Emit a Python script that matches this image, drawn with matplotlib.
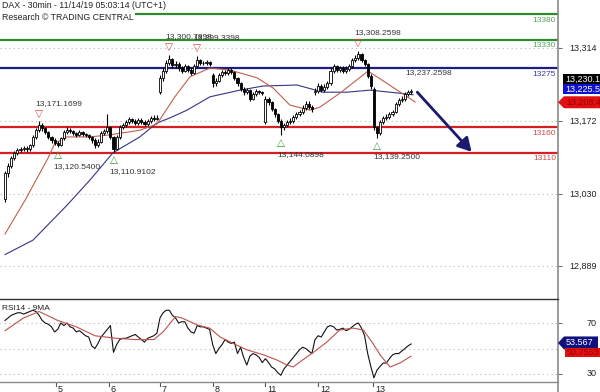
import matplotlib
matplotlib.use('Agg')
import matplotlib.pyplot as plt
from matplotlib.patches import Rectangle, Polygon
from matplotlib.lines import Line2D

plt.rcParams['font.family'] = ['Liberation Sans', 'DejaVu Sans']

# ---------------- data ----------------
opens = [13020, 13070, 13085, 13100, 13110, 13116, 13118, 13120, 13117, 13125,
         13140, 13155, 13165, 13158, 13150, 13140, 13135, 13130, 13126, 13138,
         13150, 13155, 13152, 13148, 13145, 13150, 13146, 13144, 13140, 13135,
         13125, 13132, 13148, 13152, 13160, 13140, 13118, 13140, 13160, 13165,
         13170, 13175, 13172, 13168, 13174, 13170, 13166, 13172, 13178, 13176,
         13228, 13255, 13270, 13285, 13292, 13280, 13283, 13275, 13270, 13278,
         13272, 13266, 13278, 13290, 13285, 13284, 13286, 13262, 13245, 13250,
         13262, 13268, 13265, 13272, 13268, 13255, 13245, 13235, 13228, 13232,
         13215, 13225, 13230, 13228, 13170, 13215, 13208, 13195, 13185, 13172,
         13160, 13165, 13170, 13172, 13180, 13185, 13190, 13198, 13205, 13200,
         13228, 13230, 13240, 13232, 13238, 13245, 13270, 13278, 13272, 13275,
         13270, 13274, 13278, 13290, 13295, 13302, 13290, 13282, 13260, 13235,
         13160, 13148, 13170, 13178, 13180, 13185, 13190, 13205, 13212, 13215,
         13225, 13228]
highs = [13075, 13090, 13104, 13114, 13120, 13122, 13124, 13123, 13128, 13144,
         13158, 13171.17, 13168, 13161, 13153, 13143, 13138, 13133, 13141, 13154,
         13160, 13158, 13155, 13151, 13154, 13153, 13149, 13147, 13143, 13138,
         13136, 13152, 13157, 13185, 13163, 13143, 13144, 13164, 13169, 13174,
         13179, 13178, 13175, 13177, 13177, 13173, 13176, 13182, 13184, 13183,
         13262, 13275, 13290, 13300.78, 13295, 13288, 13286, 13279, 13282, 13281,
         13275, 13282, 13299.34, 13293, 13289, 13290, 13289, 13265, 13255, 13266,
         13272, 13271, 13276, 13275, 13270, 13258, 13248, 13238, 13236, 13234,
         13229, 13234, 13233, 13231, 13220, 13218, 13210, 13198, 13188, 13175,
         13169, 13174, 13177, 13184, 13189, 13194, 13203, 13210, 13210, 13204,
         13236, 13245, 13243, 13243, 13250, 13275, 13283, 13281, 13279, 13278,
         13278, 13282, 13294, 13300, 13308.26, 13304, 13293, 13285, 13263, 13238,
         13163, 13174, 13182, 13185, 13189, 13194, 13209, 13216, 13220, 13229,
         13233, 13235]
lows = [13015, 13062, 13080, 13096, 13106, 13111, 13113, 13112, 13114, 13122,
        13137, 13151, 13153, 13146, 13136, 13130, 13125, 13120.54, 13123, 13135,
        13146, 13148, 13144, 13141, 13142, 13142, 13140, 13136, 13130, 13120,
        13122, 13129, 13144, 13149, 13136, 13110.91, 13115, 13137, 13156, 13161,
        13166, 13168, 13164, 13165, 13166, 13162, 13163, 13169, 13172, 13173,
        13225, 13250, 13266, 13281, 13276, 13275, 13270, 13265, 13267, 13268,
        13262, 13263, 13275, 13281, 13280, 13281, 13278, 13238, 13241, 13247,
        13258, 13261, 13262, 13264, 13251, 13240, 13230, 13222, 13224, 13210,
        13212, 13221, 13224, 13222, 13166, 13204, 13191, 13180, 13168, 13144.09,
        13155, 13161, 13166, 13169, 13176, 13181, 13186, 13194, 13196, 13190,
        13222, 13226, 13228, 13228, 13234, 13242, 13266, 13268, 13268, 13266,
        13266, 13270, 13275, 13286, 13291, 13286, 13278, 13255, 13235, 13155,
        13139.25, 13145, 13166, 13174, 13176, 13181, 13187, 13201, 13208, 13211,
        13221, 13224]
closes = [13070, 13085, 13100, 13110, 13116, 13118, 13120, 13117, 13125, 13140,
          13155, 13165, 13158, 13150, 13140, 13135, 13130, 13126, 13138, 13150,
          13155, 13152, 13148, 13145, 13150, 13146, 13144, 13140, 13135, 13125,
          13132, 13148, 13152, 13160, 13140, 13118, 13140, 13160, 13165, 13170,
          13175, 13172, 13168, 13174, 13170, 13166, 13172, 13178, 13176, 13178,
          13255, 13270, 13285, 13292, 13280, 13283, 13275, 13270, 13278, 13272,
          13266, 13278, 13290, 13285, 13284, 13286, 13282, 13245, 13250, 13262,
          13268, 13265, 13272, 13268, 13255, 13245, 13235, 13228, 13232, 13215,
          13225, 13230, 13228, 13226, 13215, 13208, 13195, 13185, 13172, 13160,
          13165, 13170, 13172, 13180, 13185, 13190, 13198, 13205, 13200, 13195,
          13230, 13240, 13232, 13238, 13245, 13270, 13278, 13272, 13275, 13270,
          13274, 13278, 13290, 13295, 13302, 13290, 13282, 13260, 13240, 13160,
          13148, 13170, 13178, 13180, 13185, 13190, 13205, 13212, 13215, 13225,
          13228, 13230]

ma_fast_bars = [0, 6.5, 13.9, 16.1, 20, 27.4, 33.9, 43.5, 49, 54.8, 59.7, 66.1,
                72.6, 81.3, 86.5, 91.9, 98.4, 101.6, 108, 113.5, 117.1, 121, 126.5, 132.3]
ma_fast_vals = [12952, 13018, 13100, 13129, 13141, 13141, 13145, 13154, 13166, 13219,
                13258, 13275, 13271, 13256, 13236, 13203, 13193, 13199, 13226, 13252,
                13269, 13254, 13232, 13209]
ma_slow_bars = [0, 9, 20, 27.4, 34.8, 43.5, 49, 53.2, 58.7, 66.1, 75.8, 83.2,
                94.2, 102.6, 110.3, 117.7, 127.4, 131.6]
ma_slow_vals = [12912, 12940, 13008, 13057, 13110, 13141, 13168, 13178, 13193, 13219,
                13232, 13240, 13242, 13228, 13228, 13232, 13226, 13223]

rsi = [72, 74, 76, 77, 78, 78, 77, 78, 79, 80, 79, 76, 72, 70, 69, 67, 63, 65, 70, 68,
       70, 67, 66, 63, 64, 62, 60, 59, 52, 50, 54, 59, 62, 65, 68, 47, 53, 57, 58, 58,
       59, 60, 61, 59, 57, 55, 58, 59, 60, 62, 74, 78, 80, 80, 76, 74, 70, 71, 71, 66,
       63, 62, 68, 67, 67, 66, 65, 53, 46, 50, 53, 57, 55, 54, 55, 46, 51, 43, 37, 44,
       46, 45, 43, 39, 42, 39, 35.5, 34, 31, 29, 34, 37, 40, 43, 46, 49, 51, 50, 48, 46,
       57, 60, 59, 63, 67, 68, 67, 64.5, 65, 66, 64, 65, 67, 69, 70, 66, 60, 46, 36, 27,
       33, 36, 38.6, 38.6, 42, 45, 46, 46, 48, 50, 52, 53.567]
rsi_ma_bars = [0, 6, 11, 17, 23, 29, 36, 42, 48, 51, 55, 57, 62, 66, 69.4, 73.6, 78,
               83.4, 87.7, 91, 93, 96, 99.5, 103.8, 108, 112.3, 115.6, 118.4, 121,
               124.2, 127.4, 131]
rsi_ma_vals = [64, 74, 79, 72, 67, 60, 58, 57, 57, 63, 75, 74, 68.5, 66, 59, 54, 49,
               45, 41, 37, 35.5, 41, 47, 55, 64.5, 66, 64.5, 55, 45, 35.5, 38.6, 44]

levels = [13380, 13330, 13275, 13160, 13110]
level_colors = ['#2e8b2e', '#2e8b2e', '#1c1c8a', '#d42020', '#d42020']
level_text_colors = ['#5aa05a', '#5aa05a', '#3a3a9a', '#c84848', '#c84848']

price_ticks = [13314, 13172, 13030, 12889]
rsi_ticks = [70, 30]
rsi_grid = [70, 50, 30]

day_labels = ['5', '6', '7', '8', '11', '12', '13']
day_start_bar = [16.5, 33.5, 50, 67, 84, 101, 118.7]

peak_bars = [11, 53, 62, 114]
peak_text = ['13,171.1699', '13,300.7898', '13,299.3398', '13,308.2598']
trough_bars = [17, 35, 89, 120]
trough_text = ['13,120.5400', '13,110.9102', '13,144.0898', '13,139.2500']

last_price, ma_slow_last, ma_fast_last = 13230.1, 13225.5, 13208.4
rsi_last, rsi_ma_last = 53.567, 50.7553
arrow_from = (133, 13228)
arrow_to = (150.5, 13112)
target_label = '13,237.2598'

# ---------------- layout ----------------
W, H = 600, 392
fig = plt.figure(figsize=(6, 3.92), dpi=100)
fig.patch.set_facecolor('white')


def fx(px):
    return px / W


def fy(py):
    return 1 - py / H


ax = fig.add_axes([0, fy(299), fx(558), 299 / H])
axr = fig.add_axes([0, fy(382), fx(558), 83 / H])

xlim = (-5 / 3.1, 553 / 3.1)
ax.set_xlim(*xlim)
axr.set_xlim(*xlim)
ax.set_ylim(13314 - 251 * 1.946, 13314 + 48 * 1.946)
axr.set_ylim(30 - 8 / 1.275, 70 + 24 / 1.275)

for a in (ax, axr):
    for s in a.spines.values():
        s.set_visible(False)
    a.set_xticks([])
    a.patch.set_alpha(0)

# grid
for v in price_ticks:
    ax.axhline(v, color='#b8b8b8', lw=0.8, ls=(0, (1, 3)), zorder=1)
for v in rsi_grid:
    axr.axhline(v, color='#b8b8b8', lw=0.8, ls=(0, (1, 3)), zorder=1)

# level lines
for lv, c in zip(levels, level_colors):
    ax.axhline(lv, color=c, lw=1.6, zorder=2)
ytr = ax.get_yaxis_transform()
for lv, tc in zip(levels, level_text_colors):
    ax.annotate(str(lv), xy=(556 / 558, lv), xycoords=ytr, xytext=(0, -6),
                textcoords='offset pixels', ha='right', va='center',
                fontsize=6, color=tc, zorder=6)

# moving averages
ax.plot(ma_slow_bars, ma_slow_vals, color='#34348a', lw=0.8, zorder=3)
ax.plot(ma_fast_bars, ma_fast_vals, color='#c0604a', lw=0.8, zorder=3)

# candles
for i, (o, h, l, c) in enumerate(zip(opens, highs, lows, closes)):
    ax.vlines(i, l, h, color='black', lw=0.8, zorder=4)
    up = c >= o
    bottom = min(o, c)
    height = max(abs(c - o), 1.0)
    ax.add_patch(Rectangle((i - 0.35, bottom), 0.7, height,
                           facecolor='white' if up else 'black',
                           edgecolor='black', lw=0.6, zorder=5))

# peak / trough markers
for b, t in zip(peak_bars, peak_text):
    hv = highs[b]
    ax.annotate('\u25BD', xy=(b, hv), xytext=(0, 8), textcoords='offset pixels',
                ha='center', va='center', fontsize=7.5, color='#e04040',
                family='DejaVu Sans', zorder=6)
    ax.annotate(t, xy=(b, hv), xytext=(-4, 18), textcoords='offset pixels',
                ha='left', va='center', fontsize=6, color='#333333', zorder=6)
for b, t in zip(trough_bars, trough_text):
    lv = lows[b]
    ax.annotate('\u25B3', xy=(b, lv), xytext=(0, -8), textcoords='offset pixels',
                ha='center', va='center', fontsize=7.5, color='#3a9a3a',
                family='DejaVu Sans', zorder=6)
    ax.annotate(t, xy=(b, lv), xytext=(-4, -19), textcoords='offset pixels',
                ha='left', va='center', fontsize=6, color='#333333', zorder=6)

ax.annotate(target_label, xy=(129, 13267), ha='left', va='center', fontsize=6,
            color='#333333', zorder=6)

# forecast arrow
ax.annotate('', xy=arrow_to, xytext=arrow_from,
            arrowprops=dict(arrowstyle='-|>,head_length=0.8,head_width=0.45',
                            color='#1a1a6e', lw=2, shrinkA=0, shrinkB=0),
            zorder=7)

# price ticks (right)
ax.yaxis.tick_right()
ax.set_yticks(price_ticks)
ax.set_yticklabels([])
ax.tick_params(axis='y', length=3, color='#707070', width=0.8)
for v in price_ticks:
    ax.annotate(f'{v:,}', xy=(1, v), xycoords=ytr, xytext=(39, 0),
                textcoords='offset pixels', ha='right', va='center',
                fontsize=6.5, color='#222222', annotation_clip=False)

# RSI
axr.plot(range(len(rsi)), rsi, color='#111111', lw=0.8, zorder=3)
axr.plot(rsi_ma_bars, rsi_ma_vals, color='#c0504d', lw=0.8, zorder=3)
axr.yaxis.tick_right()
axr.set_yticks(rsi_ticks)
axr.set_yticklabels([])
axr.tick_params(axis='y', length=3, color='#707070', width=0.8)
ytr2 = axr.get_yaxis_transform()
for v in rsi_ticks:
    axr.annotate(str(v), xy=(1, v), xycoords=ytr2, xytext=(39, 0),
                 textcoords='offset pixels', ha='right', va='center',
                 fontsize=6.5, color='#222222', annotation_clip=False)
axr.text(2 / 558, 0.88, 'RSI14 - 9MA', transform=axr.transAxes, fontsize=6,
         color='#222222', va='center', ha='left')

# day ticks
xtr = axr.get_xaxis_transform()
for b, lab in zip(day_start_bar, day_labels):
    axr.plot([b, b], [0, -0.05], color='#555555', lw=0.8, transform=xtr,
             clip_on=False)
    axr.annotate(lab, xy=(b, 0), xycoords=xtr, xytext=(2, -7),
                 textcoords='offset pixels', ha='left', va='center',
                 fontsize=6.5, color='#222222', annotation_clip=False)

# frame lines
fig.add_artist(Line2D([fx(558), fx(558)], [0, 1], color='#8a8a8a', lw=1.2,
                      transform=fig.transFigure))
fig.add_artist(Line2D([0, fx(558)], [fy(299), fy(299)], color='#333333', lw=1,
                      transform=fig.transFigure))
fig.add_artist(Line2D([0, fx(558)], [fy(382), fy(382)], color='#8a8a8a', lw=1,
                      transform=fig.transFigure))

# header
fig.text(fx(2), fy(6), 'DAX - 30min - 11/14/19 05:03:14 (UTC+1)', fontsize=6.3,
         color='#222222', va='center', ha='left',
         bbox=dict(facecolor='white', edgecolor='none', pad=0.5))
fig.text(fx(2), fy(17), 'Research \u00a9 TRADING CENTRAL', fontsize=6.3,
         color='#222222', va='center', ha='left',
         bbox=dict(facecolor='white', edgecolor='none', pad=1.2))


# value boxes
def px_y_price(v):
    return 48 + (13314 - v) / 1.946


def px_y_rsi(v):
    return 323 + (70 - v) * 1.275


def box(x0, y0, x1, y1, color, arrow=False):
    if arrow:
        ym = (y0 + y1) / 2
        pts = [(fx(x0), fy(ym)), (fx(x0 + 6), fy(y0)), (fx(x1), fy(y0)),
               (fx(x1), fy(y1)), (fx(x0 + 6), fy(y1))]
    else:
        pts = [(fx(x0), fy(y0)), (fx(x1), fy(y0)), (fx(x1), fy(y1)), (fx(x0), fy(y1))]
    fig.add_artist(Polygon(pts, closed=True, facecolor=color, edgecolor='none',
                           transform=fig.transFigure, zorder=5))


yc = px_y_price(last_price) - 12
box(563, yc - 5, 600, yc + 5, 'black')
fig.text(fx(565), fy(yc), f'{last_price:,.1f}', color='white', fontsize=6.5,
         va='center', ha='left', zorder=6)
yc = px_y_price(ma_slow_last) - 4
box(563, yc - 5, 600, yc + 5, '#1010d0')
fig.text(fx(565), fy(yc), f'{ma_slow_last:,.1f}', color='white', fontsize=6.5,
         va='center', ha='left', zorder=6)
yc = px_y_price(ma_fast_last)
box(558, yc - 6, 600, yc + 6, '#e01010', arrow=True)
fig.text(fx(566), fy(yc), f'{ma_fast_last:,.1f}', color='#a00000', fontsize=6.5,
         va='center', ha='left', zorder=6)

yc = px_y_rsi(rsi_last) - 1
box(558, yc - 6.5, 598, yc + 6.5, '#101080', arrow=True)
fig.text(fx(566), fy(yc), f'{rsi_last:.3f}', color='white', fontsize=6.5,
         va='center', ha='left', zorder=6)
yc = yc + 10
box(565, yc - 4.5, 600, yc + 4.5, '#e01010')
fig.text(fx(567), fy(yc), f'{rsi_ma_last:.4f}', color='#a00000', fontsize=6.5,
         va='center', ha='left', zorder=6)

fig.savefig('out.png', dpi=100)
